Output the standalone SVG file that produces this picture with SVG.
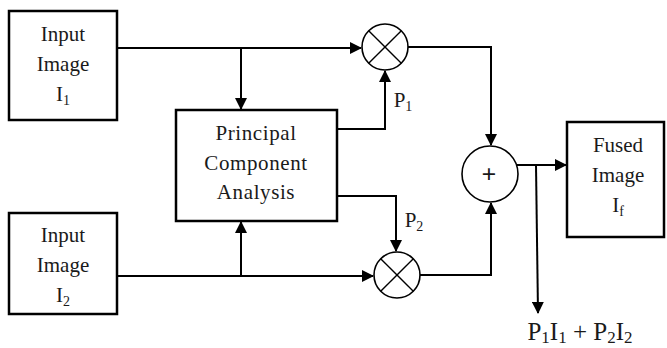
<svg xmlns="http://www.w3.org/2000/svg" width="667" height="348" viewBox="0 0 667 348">
<defs>
<style>
.box{fill:#fff;stroke:#000;stroke-width:2.5}
.circ{fill:#fff;stroke:#000;stroke-width:1.6}
.ln{fill:none;stroke:#000;stroke-width:2}
.x{stroke:#000;stroke-width:1.4}
.t{font-family:"Liberation Serif","Times New Roman",serif;font-size:21px;fill:#1a1a1a;text-anchor:middle}
.s{font-size:14px}
.big{font-size:25px}
.bs{font-size:17px}
.plus{font-size:26px;font-weight:bold}
</style>
<marker id="ah" markerWidth="12" markerHeight="12" refX="11" refY="6" orient="auto" markerUnits="userSpaceOnUse">
<path d="M0,0 L12,6 L0,12 Z" fill="#000"/>
</marker>
</defs>
<rect width="667" height="348" fill="#fff"/>
<g id="connectors">
<path class="ln" d="M117,48 H361" marker-end="url(#ah)"/>
<path class="ln" d="M241,48 V109" marker-end="url(#ah)"/>
<path class="ln" d="M337,129 H385 V71" marker-end="url(#ah)"/>
<path class="ln" d="M408,47 H491 V145" marker-end="url(#ah)"/>
<path class="ln" d="M337,196 H396 V251" marker-end="url(#ah)"/>
<path class="ln" d="M117,276 H373" marker-end="url(#ah)"/>
<path class="ln" d="M241,276 V222" marker-end="url(#ah)"/>
<path class="ln" d="M420,275 H491 V203" marker-end="url(#ah)"/>
<path class="ln" d="M517,165 H566" marker-end="url(#ah)"/>
<path class="ln" d="M536,165 L538,313" marker-end="url(#ah)"/>
</g>
<g id="input1">
<rect class="box" x="9" y="11" width="108" height="109"/>
<text class="t" x="63" y="41">Input</text>
<text class="t" x="63" y="71">Image</text>
<text class="t" x="63" y="101">I<tspan class="s" dy="4">1</tspan></text>
</g>
<g id="input2">
<rect class="box" x="9" y="213" width="108" height="101"/>
<text class="t" x="63" y="242">Input</text>
<text class="t" x="63" y="272">Image</text>
<text class="t" x="63" y="302">I<tspan class="s" dy="4">2</tspan></text>
</g>
<g id="pca">
<rect class="box" x="176" y="110" width="161" height="111"/>
<text class="t" x="256" y="140" letter-spacing="0.6">Principal</text>
<text class="t" x="256" y="170" letter-spacing="0.6">Component</text>
<text class="t" x="256" y="199" letter-spacing="0.6">Analysis</text>
</g>
<g id="mult1">
<circle class="circ" cx="385" cy="47" r="23"/>
<line class="x" x1="368.7" y1="30.7" x2="401.3" y2="63.3"/>
<line class="x" x1="401.3" y1="30.7" x2="368.7" y2="63.3"/>
</g>
<g id="mult2">
<circle class="circ" cx="397" cy="275" r="23"/>
<line class="x" x1="380.7" y1="258.7" x2="413.3" y2="291.3"/>
<line class="x" x1="413.3" y1="258.7" x2="380.7" y2="291.3"/>
</g>
<g id="sum">
<circle class="circ" cx="490" cy="174" r="28"/>
<text class="t plus" x="489" y="183">+</text>
</g>
<g id="fused">
<rect class="box" x="567" y="122" width="97" height="115"/>
<text class="t" x="618" y="152">Fused</text>
<text class="t" x="618" y="182">Image</text>
<text class="t" x="618" y="212">I<tspan class="s" dy="4">f</tspan></text>
</g>
<g id="labels">
<text class="t" x="403" y="107">P<tspan class="s" dy="4">1</tspan></text>
<text class="t" x="414" y="227">P<tspan class="s" dy="4">2</tspan></text>
<text class="t big" x="580" y="340">P<tspan class="bs" dy="3">1</tspan><tspan dy="-3">I</tspan><tspan class="bs" dy="3">1</tspan><tspan dy="-3"> + P</tspan><tspan class="bs" dy="3">2</tspan><tspan dy="-3">I</tspan><tspan class="bs" dy="3">2</tspan></text>
</g>
</svg>
